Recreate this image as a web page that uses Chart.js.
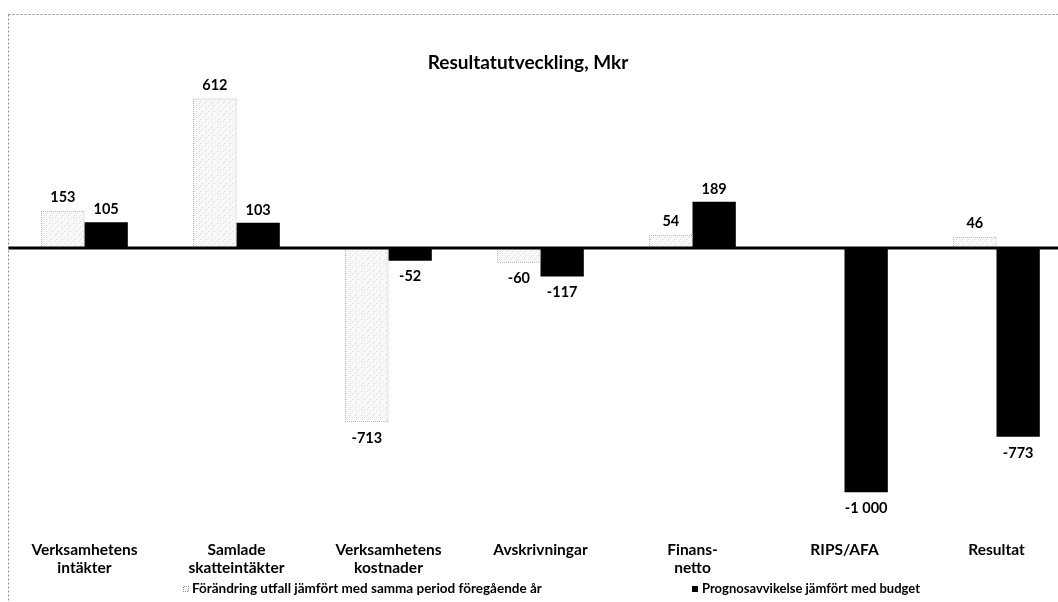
<!DOCTYPE html>
<html>
<head>
<meta charset="utf-8">
<script src="https://cdn.jsdelivr.net/npm/chart.js@4.4.1/dist/chart.umd.min.js"></script>
<style>
  html, body { margin: 0; padding: 0; background: #fff; overflow: hidden; }
  #wrap { width: 1085px; height: 602px; }
</style>
</head>
<body>
<div id="wrap"><canvas id="c" width="1085" height="602"></canvas></div>
<script>
// ---- data ----
const categories = [
  ['Verksamhetens', 'intäkter'],
  ['Samlade', 'skatteintäkter'],
  ['Verksamhetens', 'kostnader'],
  ['Avskrivningar'],
  ['Finans-', 'netto'],
  ['RIPS/AFA'],
  ['Resultat']
];
const seriesNames = [
  'Förändring utfall jämfört med samma period föregående år',
  'Prognosavvikelse jämfört med budget'
];
const forandringValues = [153, 612, -713, -60, 54, null, 46];
const prognosValues = [105, 103, -52, -117, 189, -1000, -773];
const chartTitle = 'Resultatutveckling, Mkr';

const FONT = 'Lato, "Noto Sans", sans-serif';

// light speckled fill pattern
function makeFill() {
  const p = document.createElement('canvas');
  p.width = 6; p.height = 6;
  const g = p.getContext('2d');
  g.fillStyle = '#f8f8f8'; g.fillRect(0, 0, 6, 6);
  g.fillStyle = '#d8d8d8';
  g.fillRect(1, 1, 1, 1); g.fillRect(4, 3, 1, 1); g.fillRect(2, 5, 1, 1);
  return g.createPattern(p, 'repeat');
}
function makeDots() {
  const p = document.createElement('canvas');
  p.width = 2; p.height = 2;
  const g = p.getContext('2d');
  g.fillStyle = '#ffffff'; g.fillRect(0, 0, 2, 2);
  g.fillStyle = '#8a8a8a';
  g.fillRect(0, 0, 1, 1); g.fillRect(1, 1, 1, 1);
  return g.createPattern(p, 'repeat');
}
const lightFill = makeFill();
const lightBorder = makeDots();

function fmt(v) {
  const s = Math.abs(v).toString().replace(/\B(?=(\d{3})+(?!\d))/g, ' ');
  return (v < 0 ? '-' : '') + s;
}

const framePlugin = {
  id: 'frame',
  beforeDraw(chart) {
    const ctx = chart.ctx;
    ctx.save();
    ctx.fillStyle = '#fff';
    ctx.fillRect(0, 0, chart.width, chart.height);
    ctx.strokeStyle = '#8c8c8c';
    ctx.lineWidth = 1;
    ctx.setLineDash([2, 2]);
    ctx.beginPath();
    ctx.moveTo(8.5, 14.5); ctx.lineTo(chart.width, 14.5);
    ctx.moveTo(8.5, 14.5); ctx.lineTo(8.5, chart.height);
    ctx.stroke();
    ctx.restore();
  }
};

const overlayPlugin = {
  id: 'overlay',
  afterDatasetsDraw(chart) {
    const ctx = chart.ctx;
    const ys = chart.scales.y;
    const y0 = ys.getPixelForValue(0);
    ctx.save();
    // zero line
    ctx.strokeStyle = '#000';
    ctx.lineWidth = 3;
    ctx.beginPath();
    ctx.moveTo(chart.chartArea.left, y0);
    ctx.lineTo(chart.width, y0);
    ctx.stroke();
    // value labels
    ctx.fillStyle = '#000';
    ctx.font = 'bold 14.5px ' + FONT;
    ctx.textAlign = 'center';
    ctx.textBaseline = 'middle';
    chart.data.datasets.forEach((ds, di) => {
      const meta = chart.getDatasetMeta(di);
      meta.data.forEach((el, i) => {
        const v = ds.data[i];
        if (v === null || v === undefined) return;
        const y = v >= 0 ? el.y - 13 : el.y + 16;
        ctx.fillText(fmt(v), el.x, y);
      });
    });
    // title
    ctx.font = 'bold 19px ' + FONT;
    ctx.fillText(chartTitle, 528, 63);
    // legend
    ctx.font = 'bold 13.5px ' + FONT;
    ctx.textAlign = 'left';
    ctx.fillStyle = lightFill;
    ctx.fillRect(183, 586, 6, 6);
    ctx.strokeStyle = lightBorder;
    ctx.lineWidth = 1;
    ctx.strokeRect(183.5, 586.5, 5, 5);
    ctx.fillStyle = '#000';
    ctx.fillText(seriesNames[0], 192, 589, 354);
    ctx.fillRect(692, 586, 6, 6);
    ctx.fillText(seriesNames[1], 702, 589, 218);
    ctx.restore();
  }
};

new Chart(document.getElementById('c'), {
  type: 'bar',
  data: {
    labels: categories,
    datasets: [
      {
        label: seriesNames[0],
        data: forandringValues,
        backgroundColor: lightFill,
        borderColor: lightBorder,
        borderWidth: 1,
        barPercentage: 1,
        categoryPercentage: 0.57
      },
      {
        label: seriesNames[1],
        data: prognosValues,
        backgroundColor: '#000',
        borderWidth: 0,
        barPercentage: 1,
        categoryPercentage: 0.57
      }
    ]
  },
  options: {
    responsive: false,
    animation: false,
    devicePixelRatio: 1,
    layout: { padding: { left: 8.5, right: 12.5, top: 77, bottom: 0 } },
    plugins: {
      legend: { display: false },
      title: { display: false },
      tooltip: { enabled: false }
    },
    scales: {
      x: {
        grid: { display: false, drawTicks: false },
        border: { display: false },
        ticks: {
          color: '#000',
          font: { family: FONT, size: 15.5, weight: 'bold', lineHeight: 1.17 },
          padding: 24.5,
          maxRotation: 0,
          autoSkip: false
        }
      },
      y: {
        display: false,
        min: -1100,
        max: 700
      }
    }
  },
  plugins: [framePlugin, overlayPlugin]
});
</script>
</body>
</html>
